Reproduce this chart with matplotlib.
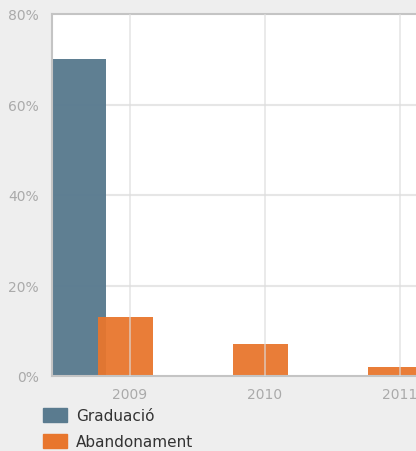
import matplotlib.pyplot as plt
from matplotlib.patches import Patch

# data
years = [2009, 2010, 2011]
graduacio = [70, 0, 0]
abandonament = [13, 7, 2]
series_names = ["Graduació", "Abandonament"]
yticks = [0, 20, 40, 60, 80]

col_grad = "#5a7b8f"
col_aband = "#e8762d"
bg = "#eeeeee"

fig = plt.figure(figsize=(4.16, 4.52), dpi=100)
fig.patch.set_facecolor(bg)
ax = fig.add_axes([51.5 / 416, 75 / 452, 1 - 51.5 / 416, 362 / 452])
ax.set_facecolor("white")

w = 0.404
# graduacio only has a visible bar in 2009
ax.bar([y - 0.378 for y in years], graduacio, width=w, color=col_grad,
       alpha=0.97, zorder=2)
ax.bar([y - 0.033 for y in years], abandonament, width=w, color=col_aband,
       alpha=0.95, zorder=2)

ax.set_ylim(0, 80)
ax.set_xlim(2009 - 78.5 / 135, 2009 + (416 - 130) / 135)
ax.set_yticks(yticks)
ax.set_yticklabels([f"{v}%" for v in yticks])
ax.set_xticks(years)
ax.set_xticklabels([str(y) for y in years])
ax.tick_params(length=0, colors="#aaaaaa", labelsize=10)
ax.tick_params(axis="y", pad=9)
ax.tick_params(axis="x", pad=8)

for v in yticks[1:-1]:
    ax.axhline(v, color="#e6e6e6", lw=1.5, zorder=1)
for y in years:
    ax.axvline(y, color="#dcdcdc", lw=1.2, zorder=3, alpha=0.7)

for s in ["left", "bottom", "top"]:
    ax.spines[s].set_color("#c4c4c4")
    ax.spines[s].set_linewidth(1.5)
ax.spines["right"].set_visible(False)

# the 2011 label is cut by the right edge, as in the original
handles = [Patch(color=col_grad), Patch(color=col_aband)]
fig.legend(handles, series_names, loc="upper left",
           bbox_to_anchor=(43 / 416, 1 - 409 / 452), frameon=False,
           fontsize=11, handlelength=1.6, handleheight=1.05,
           handletextpad=0.55, labelspacing=0.68, borderpad=0,
           borderaxespad=0, labelcolor="#333333")

fig.savefig("out.png", dpi=100, facecolor=bg)
